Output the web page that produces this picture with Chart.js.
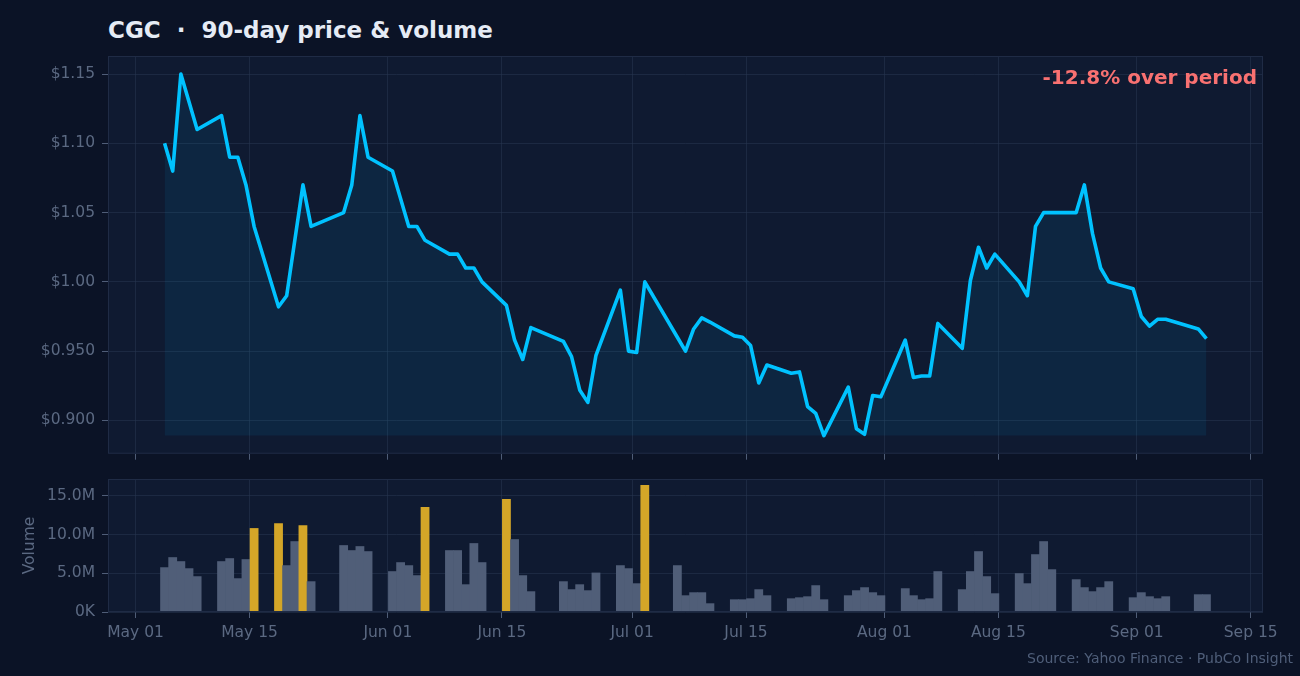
<!DOCTYPE html>
<html lang="en">
<head>
<meta charset="UTF-8">
<title>CGC · 90-day price &amp; volume</title>
<script src="https://cdn.jsdelivr.net/npm/chart.js"></script>
<style>
  html, body { margin: 0; padding: 0; background: #0b1326; }
  body { width: 1300px; height: 676px; position: relative; overflow: hidden; font-family: 'DejaVu Sans', sans-serif; }
  #priceBox { position: absolute; left: 0; top: 0; width: 1300px; height: 470px; }
  #volBox { position: absolute; left: 0; top: 440px; width: 1300px; height: 236px; }
  .title { position: absolute; left: 108px; top: 19px; font-size: 23px; line-height: 23px; font-weight: bold; color: #e5ebf5; white-space: pre; }
  .change { position: absolute; right: 43px; top: 67px; font-size: 20px; line-height: 20px; font-weight: bold; color: #f87171; }
  .source { position: absolute; right: 7px; top: 651px; font-size: 14px; line-height: 14px; color: #4f5e79; }
</style>
</head>
<body>

<div class="title">CGC  ·  90-day price &amp; volume</div>
<div id="priceBox"><canvas id="priceChart"></canvas></div>
<div id="volBox"><canvas id="volChart"></canvas></div>
<div class="change" id="change"></div>
<div class="source">Source: Yahoo Finance · PubCo Insight</div>

<script>
    // trading days (closes at the session time, so bars sit a bit right of midnight)
    const dates = [
        '2026-05-04', '2026-05-05', '2026-05-06', '2026-05-07', '2026-05-08',
        '2026-05-11', '2026-05-12', '2026-05-13', '2026-05-14', '2026-05-15',
        '2026-05-18', '2026-05-19', '2026-05-20', '2026-05-21', '2026-05-22',
        '2026-05-26', '2026-05-27', '2026-05-28', '2026-05-29',
        '2026-06-01', '2026-06-02', '2026-06-03', '2026-06-04', '2026-06-05',
        '2026-06-08', '2026-06-09', '2026-06-10', '2026-06-11', '2026-06-12',
        '2026-06-15', '2026-06-16', '2026-06-17', '2026-06-18',
        '2026-06-22', '2026-06-23', '2026-06-24', '2026-06-25', '2026-06-26',
        '2026-06-29', '2026-06-30', '2026-07-01', '2026-07-02',
        '2026-07-06', '2026-07-07', '2026-07-08', '2026-07-09', '2026-07-10',
        '2026-07-13', '2026-07-14', '2026-07-15', '2026-07-16', '2026-07-17',
        '2026-07-20', '2026-07-21', '2026-07-22', '2026-07-23', '2026-07-24',
        '2026-07-27', '2026-07-28', '2026-07-29', '2026-07-30', '2026-07-31',
        '2026-08-03', '2026-08-04', '2026-08-05', '2026-08-06', '2026-08-07',
        '2026-08-10', '2026-08-11', '2026-08-12', '2026-08-13', '2026-08-14',
        '2026-08-17', '2026-08-18', '2026-08-19', '2026-08-20', '2026-08-21',
        '2026-08-24', '2026-08-25', '2026-08-26', '2026-08-27', '2026-08-28',
        '2026-08-31', '2026-09-01', '2026-09-02', '2026-09-03', '2026-09-04',
        '2026-09-08', '2026-09-09'
    ];

    const closePrice = [
        1.100, 1.080, 1.150, 1.130, 1.110,
        1.120, 1.090, 1.090, 1.070, 1.040,
        0.982, 0.990, 1.030, 1.070, 1.040,
        1.050, 1.070, 1.120, 1.090,
        1.080, 1.060, 1.040, 1.040, 1.030,
        1.020, 1.020, 1.010, 1.010, 1.000,
        0.983, 0.958, 0.944, 0.967,
        0.957, 0.946, 0.922, 0.913, 0.947,
        0.994, 0.950, 0.949, 1.000,
        0.960, 0.950, 0.966, 0.974, 0.971,
        0.961, 0.960, 0.954, 0.927, 0.940,
        0.934, 0.935, 0.910, 0.905, 0.889,
        0.924, 0.894, 0.890, 0.918, 0.917,
        0.958, 0.931, 0.932, 0.932, 0.970,
        0.952, 1.001, 1.025, 1.010, 1.020,
        1.000, 0.990, 1.040, 1.050, 1.050,
        1.050, 1.070, 1.035, 1.010, 1.000,
        0.995, 0.975, 0.968, 0.973, 0.973,
        0.966, 0.959
    ];

    // volume in millions of shares
    const volumeM = [
        5.73, 7.03, 6.51, 5.60, 4.57,
        6.51, 6.90, 4.31, 6.77, 10.78,
        11.42, 5.99, 9.09, 11.16, 3.92,
        8.58, 7.93, 8.45, 7.80,
        5.22, 6.38, 5.99, 4.70, 13.49,
        7.93, 7.93, 3.53, 8.84, 6.38,
        14.53, 9.35, 4.70, 2.63,
        3.92, 2.89, 3.53, 2.76, 5.04,
        5.99, 5.60, 3.66, 16.34,
        5.99, 2.11, 2.50, 2.50, 1.08,
        1.59, 1.59, 1.72, 2.89, 2.11,
        1.72, 1.85, 1.98, 3.41, 1.59,
        2.11, 2.76, 3.15, 2.50, 2.11,
        3.02, 2.11, 1.59, 1.72, 5.22,
        2.89, 5.22, 7.80, 4.57, 2.37,
        4.96, 3.66, 7.41, 9.09, 5.47,
        4.18, 3.15, 2.63, 3.15, 3.92,
        1.85, 2.50, 1.98, 1.72, 1.98,
        2.24, 2.24
    ];

    const dateTicks = ['2026-05-01', '2026-05-15', '2026-06-01', '2026-06-15', '2026-07-01',
                       '2026-07-15', '2026-08-01', '2026-08-15', '2026-09-01', '2026-09-15'];
    const priceTicks = [0.90, 0.95, 1.00, 1.05, 1.10, 1.15];
    const volumeTicks = [0, 5, 10, 15];
    const monthNames = ['Jan', 'Feb', 'Mar', 'Apr', 'May', 'Jun', 'Jul', 'Aug', 'Sep', 'Oct', 'Nov', 'Dec'];

    const SESSION = 13.5 / 24;  // Yahoo stamps daily bars at the open
    const origin = Date.parse(dateTicks[0]);
    const dayNum = iso => (Date.parse(iso) - origin) / 864e5;

    const xs = dates.map(d => dayNum(d) + SESSION);
    const tickX = dateTicks.map(dayNum);

    // limits like matplotlib's 5% auto margins
    const barLeft = xs[0] - 0.5, barRight = xs[xs.length - 1] + 0.5;
    const xMin = barLeft - 0.05 * (barRight - barLeft);
    const xMax = barRight + 0.05 * (barRight - barLeft);
    const pMin = Math.min(...closePrice), pMax = Math.max(...closePrice);
    const yMin = pMin - 0.05 * (pMax - pMin), yMax = pMax + 0.05 * (pMax - pMin);
    const vMax = Math.max(...volumeM) * 1.05;

    const meanVol = volumeM.reduce((a, b) => a + b, 0) / volumeM.length;
    const barColors = volumeM.map(v => v > 2 * meanVol ? '#d4a628' : '#505e78');

    const pct = (closePrice[closePrice.length - 1] - closePrice[0]) / closePrice[0] * 100;
    document.getElementById('change').textContent = (pct >= 0 ? '+' : '') + pct.toFixed(1) + '% over period';

    const gridCol = 'rgba(40,55,80,0.55)';
    const tickCol = '#4f5d77';
    const labelCol = '#5b6982';

    Chart.defaults.font.family = "'DejaVu Sans', sans-serif";
    Chart.defaults.font.size = 15.5;
    Chart.defaults.color = labelCol;
    Chart.defaults.animation = false;

    const panel = {
        id: 'panel',
        beforeDraw(chart) {
            const a = chart.chartArea, ctx = chart.ctx;
            ctx.save();
            ctx.fillStyle = '#0f1a31';
            ctx.fillRect(a.left, a.top, a.right - a.left, a.bottom - a.top);
            ctx.restore();
        },
        afterDraw(chart) {
            const a = chart.chartArea, ctx = chart.ctx;
            ctx.save();
            ctx.strokeStyle = '#1f2b45';
            ctx.lineWidth = 1;
            ctx.strokeRect(a.left + 0.5, a.top + 0.5, a.right - a.left - 1, a.bottom - a.top - 1);
            ctx.restore();
        }
    };

    function dateLabel(v) {
        const i = tickX.indexOf(v);
        if (i < 0) return '';
        const d = new Date(dateTicks[i]);
        return monthNames[d.getUTCMonth()] + ' ' + String(d.getUTCDate()).padStart(2, '0');
    }

    function xAxis(showLabels, z) {
        return {
            type: 'linear',
            min: xMin,
            max: xMax,
            offset: false,
            z: z,
            afterBuildTicks: s => { s.ticks = tickX.map(v => ({ value: v })); },
            afterFit: s => { s.height = showLabels ? 64 : 16; },
            grid: { color: gridCol, tickColor: tickCol, tickLength: 6, offset: false },
            border: { display: false },
            ticks: { display: showLabels, autoSkip: false, maxRotation: 0, padding: 6, callback: dateLabel }
        };
    }

    new Chart(document.getElementById('priceChart'), {
        type: 'line',
        data: {
            datasets: [{
                data: xs.map((x, i) => ({ x: x, y: closePrice[i] })),
                borderColor: '#00c2ff',
                borderWidth: 3.6,
                borderJoinStyle: 'round',
                backgroundColor: 'rgba(0,191,255,0.08)',
                fill: { value: pMin },
                pointRadius: 0,
                tension: 0
            }]
        },
        options: {
            responsive: true,
            maintainAspectRatio: false,
            layout: { padding: { top: 56, right: 37, left: 0, bottom: 0 } },
            plugins: { legend: { display: false }, tooltip: { enabled: false } },
            scales: {
                x: xAxis(false, 0),
                y: {
                    min: yMin,
                    max: yMax,
                    afterBuildTicks: s => { s.ticks = priceTicks.map(v => ({ value: v })); },
                    afterFit: s => { s.width = 108; },
                    grid: { color: gridCol, tickColor: tickCol, tickLength: 6 },
                    border: { display: false },
                    ticks: { padding: 7, callback: v => v < 1 ? '$' + v.toFixed(3) : '$' + v.toFixed(2) }
                }
            }
        },
        plugins: [panel]
    });

    new Chart(document.getElementById('volChart'), {
        type: 'bar',
        data: {
            datasets: [{
                data: xs.map((x, i) => ({ x: x, y: volumeM[i] })),
                backgroundColor: barColors,
                borderWidth: 0,
                barPercentage: 1,
                categoryPercentage: 1
            }]
        },
        options: {
            responsive: true,
            maintainAspectRatio: false,
            layout: { padding: { top: 39, right: 37, left: 0, bottom: 0 } },
            plugins: { legend: { display: false }, tooltip: { enabled: false } },
            scales: {
                x: xAxis(true, 1),
                y: {
                    min: 0,
                    max: vMax,
                    z: 1,
                    afterBuildTicks: s => { s.ticks = volumeTicks.map(v => ({ value: v })); },
                    afterFit: s => { s.width = 108; },
                    grid: { color: gridCol, tickColor: tickCol, tickLength: 6 },
                    border: { display: false },
                    title: { display: true, text: 'Volume', color: labelCol, font: { size: 15.5 }, padding: { top: 21, bottom: 0 } },
                    ticks: { padding: 7, callback: v => v === 0 ? '0K' : v.toFixed(1) + 'M' }
                }
            }
        },
        plugins: [panel]
    });
</script>

</body>
</html>
